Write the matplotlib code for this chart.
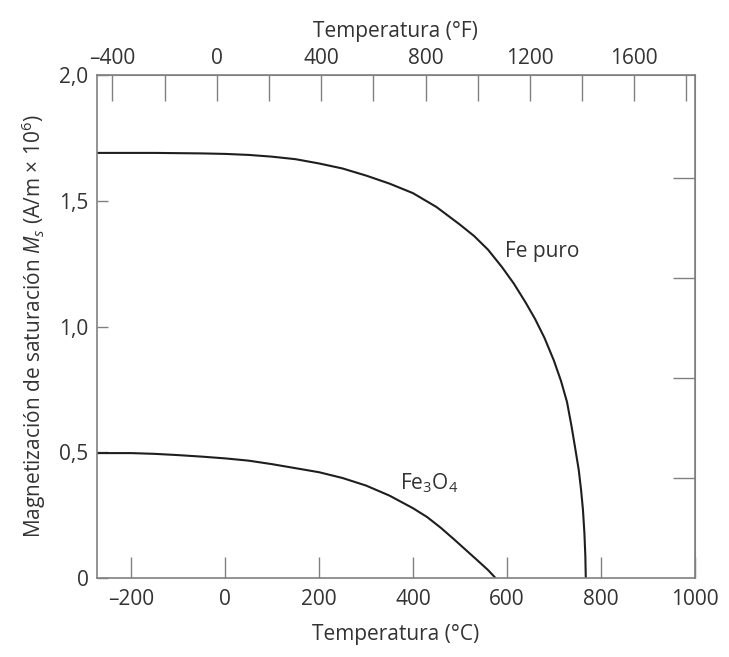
import numpy as np
import matplotlib
matplotlib.use('Agg')
import matplotlib.pyplot as plt

# --- datos ---
t_fe = [-273, -150, -50, 0, 50, 100, 150, 200, 250, 300, 350, 400, 450, 500,
        530, 560, 590, 615, 640, 660, 680, 700, 715, 728, 738, 746, 753, 758,
        762, 765, 767, 768]
ms_fe = [1.69, 1.69, 1.688, 1.686, 1.682, 1.675, 1.665, 1.648, 1.628, 1.600,
         1.568, 1.530, 1.475, 1.405, 1.36, 1.305, 1.235, 1.17, 1.095, 1.03,
         0.955, 0.865, 0.785, 0.70, 0.60, 0.51, 0.43, 0.35, 0.27, 0.18, 0.09,
         0.0]

t_mag = [-273, -200, -150, -100, -50, 0, 50, 100, 150, 200, 250, 300, 350,
         400, 430, 460, 490, 515, 540, 560, 576]
ms_mag = [0.497, 0.497, 0.494, 0.489, 0.483, 0.476, 0.467, 0.453, 0.437,
          0.421, 0.398, 0.368, 0.328, 0.278, 0.243, 0.199, 0.150, 0.108,
          0.066, 0.032, 0.0]

x_ticks = [-200, 0, 200, 400, 600, 800, 1000]
y_ticks = [0, 0.5, 1.0, 1.5, 2.0]
y_labels = ['0', '0,5', '1,0', '1,5', '2,0']
f_major = [-400, 0, 400, 800, 1200, 1600]
f_minor = [-200, 200, 600, 1000, 1400, 1800]
tesla_ticks = [0.5, 1.0, 1.5, 2.0]

plt.rcParams['font.family'] = ['Open Sans', 'DejaVu Sans']
plt.rcParams['mathtext.fontset'] = 'custom'
plt.rcParams['mathtext.rm'] = 'Open Sans'
plt.rcParams['mathtext.it'] = 'Open Sans:italic'

TXT = '#333333'
AX = '#808080'
LINE = '#1e1e1e'
FS = 15

fig = plt.figure(figsize=(7.29, 6.57), dpi=100)
ax = fig.add_axes([0.133, 0.120, 0.820, 0.766])

ax.plot(t_fe, ms_fe, color=LINE, lw=1.5, solid_joinstyle='round')
ax.plot(t_mag, ms_mag, color=LINE, lw=1.5, solid_joinstyle='round')

ax.set_xlim(-273, 1000)
ax.set_ylim(0, 2.0)

for s in ax.spines.values():
    s.set_color(AX)
    s.set_linewidth(1.2)

ax.set_xticks(x_ticks)
ax.set_xticklabels([str(v).replace('-', '\u2013') for v in x_ticks])
ax.set_yticks(y_ticks)
ax.set_yticklabels(y_labels)
ax.tick_params(axis='x', direction='in', length=15, width=1.0, color=AX,
               labelsize=FS, labelcolor=TXT, pad=8)
ax.tick_params(axis='y', direction='in', length=8, width=1.0, color=AX,
               labelsize=FS, labelcolor=TXT, pad=6)

# eje superior en grados Fahrenheit
top = ax.secondary_xaxis('top', functions=(lambda c: c * 9 / 5 + 32,
                                           lambda f: (f - 32) * 5 / 9))
top.set_xticks(f_major)
top.set_xticklabels([str(v).replace('-', '\u2013') for v in f_major])
top.set_xticks(f_minor, minor=True)
top.tick_params(which='both', direction='in', length=19, width=1.0,
                color=AX, labelsize=FS, labelcolor=TXT, pad=4)
top.spines['top'].set_color(AX)
top.set_xlabel('Temperatura (°F)', fontsize=FS, color=TXT, labelpad=8)

# eje derecho en teslas (sin etiquetas)
mu0 = 4 * np.pi * 1e-7
right = ax.secondary_yaxis('right', functions=(lambda m: m * 1e6 * mu0,
                                               lambda b: b / mu0 / 1e6))
right.set_yticks(tesla_ticks)
right.set_yticklabels([])
right.tick_params(direction='in', length=16, width=1.0, color=AX)
right.spines['right'].set_color(AX)

ax.set_xlabel('Temperatura (°C)', fontsize=FS, color=TXT, labelpad=10)
ax.set_ylabel(r'Magnetización de saturación $\mathit{M}_\mathit{s}$ (A/m × 10$^6$)',
              fontsize=FS, color=TXT, labelpad=8)

ax.text(675, 1.30, 'Fe puro', fontsize=FS, color=TXT, ha='center', va='center')
ax.text(435, 0.378, r'Fe$_3$O$_4$', fontsize=FS, color=TXT, ha='center', va='center')

fig.savefig('out.png', dpi=100)
